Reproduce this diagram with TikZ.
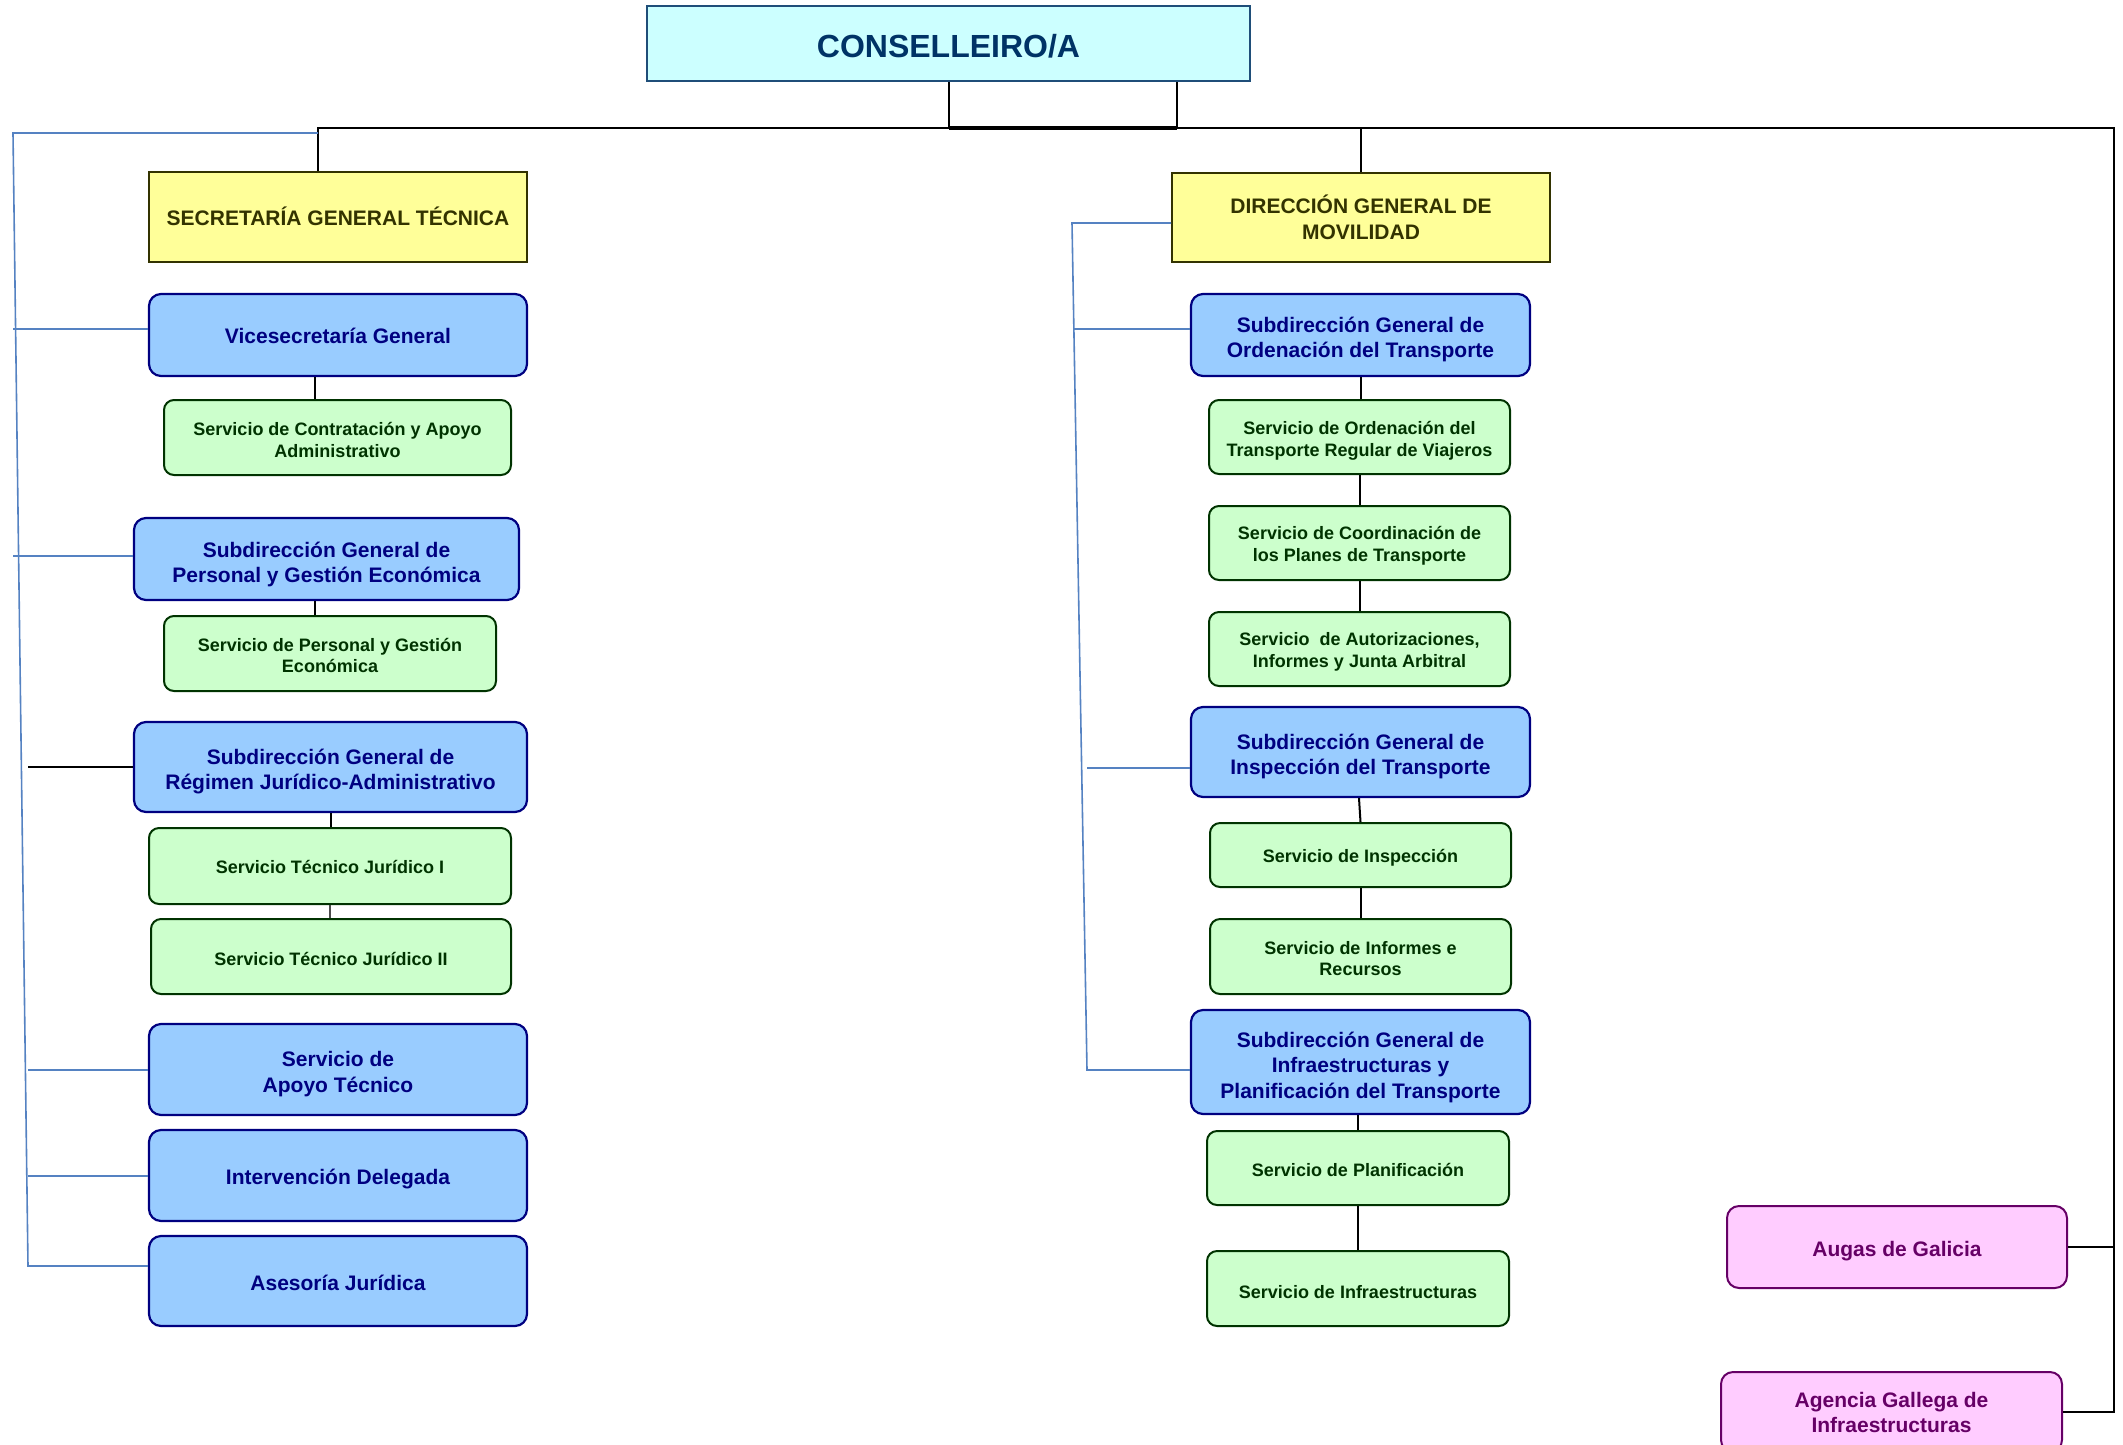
\documentclass[tikz,border=0pt]{standalone}
\usepackage{fontspec}
\setmainfont{Liberation Sans}
\definecolor{consfill}{HTML}{CCFFFF}
\definecolor{consdraw}{HTML}{1F4E79}
\definecolor{constext}{HTML}{003366}
\definecolor{yelfill}{HTML}{FFFF99}
\definecolor{yeldraw}{HTML}{333300}
\definecolor{bluefill}{HTML}{99CCFF}
\definecolor{bluedraw}{HTML}{000080}
\definecolor{greenfill}{HTML}{CCFFCC}
\definecolor{greendraw}{HTML}{003300}
\definecolor{pinkfill}{HTML}{FFCCFF}
\definecolor{pinkdraw}{HTML}{660066}
\definecolor{linkblue}{HTML}{5582C2}
\newcommand{\boxtxt}[2][3.5pt]{\raisebox{-#1}[\height][\depth]{\begin{tabular}{@{}c@{}}#2\end{tabular}}}
\tikzset{
  basebox/.style={draw, align=center, inner sep=0pt},
  consbox/.style={basebox, rectangle, fill=consfill, draw=consdraw, line width=2pt, text=constext, font=\bfseries\fontsize{32}{38}\selectfont},
  yelbox/.style={basebox, rectangle, fill=yelfill, draw=yeldraw, line width=2pt, text=yeldraw, font=\bfseries\fontsize{21}{26}\selectfont},
  bluebox/.style={basebox, rounded corners=12pt, fill=bluefill, draw=bluedraw, line width=2.2pt, text=bluedraw, font=\bfseries\fontsize{21}{25.5}\selectfont},
  greenbox/.style={basebox, rounded corners=10pt, fill=greenfill, draw=greendraw, line width=2pt, text=greendraw, font=\bfseries\fontsize{18}{21.5}\selectfont},
  pinkbox/.style={basebox, rounded corners=12pt, fill=pinkfill, draw=pinkdraw, line width=2pt, text=pinkdraw, font=\bfseries\fontsize{21}{25.5}\selectfont},
  conn/.style={draw=black, line width=2pt},
  thinconn/.style={draw=black!70, line width=1.5pt},
  blink/.style={draw=linkblue, line width=1.6pt},
  sz/.style n args={2}{minimum width=#1pt, minimum height=#2pt}
}
\begin{document}
\begin{tikzpicture}[x=1pt, y=-1pt]
\useasboundingbox (0,0) rectangle (2123,1444);
% top
\node[consbox, sz={603}{75}] (cons) at (948.5,43.5) {\boxtxt[6.5pt]{CONSELLEIRO/A}};
\node[yelbox, sz={378}{90}] (sgt) at (338,217) {\boxtxt[3pt]{SECRETARÍA GENERAL TÉCNICA}};
\node[yelbox, sz={378}{89}] (dgm) at (1361,217.5) {DIRECCIÓN GENERAL DE\\MOVILIDAD};
% left column
\node[bluebox, sz={378}{82}] (vice) at (338,335) {\boxtxt[3.5pt]{Vicesecretaría General}};
\node[greenbox, sz={347}{75}] (scontr) at (337.5,437.5) {\boxtxt[4.5pt]{Servicio de Contratación y Apoyo\\Administrativo}};
\node[bluebox, sz={385}{82}] (sdpers) at (326.5,559) {\boxtxt[6pt]{Subdirección General de\\Personal y Gestión Económica}};
\node[greenbox, sz={332}{75}] (spers) at (330,653.5) {\boxtxt[4pt]{Servicio de Personal y Gestión\\Económica}};
\node[bluebox, sz={393}{90}] (sdreg) at (330.5,767) {\boxtxt[5pt]{Subdirección General de\\Régimen Jurídico-Administrativo}};
\node[greenbox, sz={362}{76}] (stj1) at (330,866) {\boxtxt[3.5pt]{Servicio Técnico Jurídico I}};
\node[greenbox, sz={360}{75}] (stj2) at (331,956.5) {\boxtxt[4.5pt]{Servicio Técnico Jurídico II}};
\node[bluebox, sz={378}{91}] (sapoyo) at (338,1069.5) {\boxtxt[5pt]{Servicio de\\Apoyo Técnico}};
\node[bluebox, sz={378}{91}] (interv) at (338,1175.5) {\boxtxt[4pt]{Intervención Delegada}};
\node[bluebox, sz={378}{90}] (aseso) at (338,1281) {\boxtxt[4.5pt]{Asesoría Jurídica}};
% right column
\node[bluebox, sz={339}{82}] (sdord) at (1360.5,335) {\boxtxt[5pt]{Subdirección General de\\Ordenación del Transporte}};
\node[greenbox, sz={301}{74}] (sord) at (1359.5,437) {\boxtxt[4pt]{Servicio de Ordenación del\\Transporte Regular de Viajeros}};
\node[greenbox, sz={301}{74}] (scoord) at (1359.5,543) {\boxtxt[3pt]{Servicio de Coordinación de\\los Planes de Transporte}};
\node[greenbox, sz={301}{74}] (saut) at (1359.5,649) {\boxtxt[3pt]{Servicio\ \ de Autorizaciones,\\Informes y Junta Arbitral}};
\node[bluebox, sz={339}{90}] (sdins) at (1360.5,752) {\boxtxt[5pt]{Subdirección General de\\Inspección del Transporte}};
\node[greenbox, sz={301}{64}] (sins) at (1360.5,855) {\boxtxt[3.5pt]{Servicio de Inspección}};
\node[greenbox, sz={301}{75}] (sinf) at (1360.5,956.5) {\boxtxt[4pt]{Servicio de Informes e\\Recursos}};
\node[bluebox, sz={339}{104}] (sdinfra) at (1360.5,1062) {\boxtxt[5.5pt]{Subdirección General de\\Infraestructuras y\\Planificación del Transporte}};
\node[greenbox, sz={302}{74}] (splan) at (1358,1168) {\boxtxt[4.5pt]{Servicio de Planificación}};
\node[greenbox, sz={302}{75}] (sinfra) at (1358,1288.5) {\boxtxt[5.5pt]{Servicio de Infraestructuras}};
% far right
\node[pinkbox, sz={340}{82}] (augas) at (1897,1247) {\boxtxt[4pt]{Augas de Galicia}};
\node[pinkbox, sz={341}{80}] (agencia) at (1891.5,1412) {\boxtxt[2.7pt]{Agencia Gallega de\\Infraestructuras}};
% bus coordinates
\coordinate (busL) at (318,128);
\coordinate (busR) at (2114,128);
% black connectors
\draw[conn] (cons.south) -- (cons.south |- busL);
\draw[conn] ([xshift=228.5pt]cons.south) -- ([xshift=228.5pt]cons.south |- busL);
\draw[line width=4pt] (cons.south |- busL) -- ++(228.5,0);
\draw[conn] ([xshift=-20pt]sgt.north) -- (busL) -- (busR) -- (busR |- agencia.east) -- (agencia.east);
\draw[conn] (dgm.north) -- (dgm.north |- busL);
\draw[conn] (augas.east) -- (augas.east -| busR);
\draw[conn] ([xshift=-23pt]vice.south) -- ([xshift=-23pt]vice.south |- scontr.north);
\draw[conn] ([xshift=-11.5pt]sdpers.south) -- ([xshift=-11.5pt]sdpers.south |- spers.north);
\draw[conn] (sdreg.south) -- (sdreg.south |- stj1.north);
\draw[thinconn] (stj1.south) -- (stj1.south |- stj2.north);
\draw[conn] (sdord.south) -- (sdord.south |- sord.north);
\draw[conn] (sord.south) -- (scoord.north);
\draw[conn] (scoord.south) -- (saut.north);
\draw[conn] ([xshift=-1.5pt]sdins.south) -- (sins.north);
\draw[conn] (sins.south) -- (sinf.north);
\draw[conn] (splan.north |- sdinfra.south) -- (splan.north);
\draw[conn] (splan.south) -- (sinfra.north);
% left blue links
\coordinate (bl0) at (318,133);
\coordinate (bl1) at (13,133);
\coordinate (bl2) at (28,1266);
\draw[blink] (bl0) -- (bl1) -- (bl2) -- (bl2 -| aseso.west);
\coordinate (lb1) at (13,329);
\coordinate (lb2) at (13,556);
\coordinate (lb3) at (28,767);
\coordinate (lb4) at (28,1070);
\coordinate (lb5) at (28,1176);
\draw[blink] (lb1) -- (lb1 -| vice.west);
\draw[blink] (lb2) -- (lb2 -| sdpers.west);
\draw[draw=black, line width=1.5pt] (lb3) -- (sdreg.west);
\draw[blink] (lb4) -- (lb4 -| sapoyo.west);
\draw[blink] (lb5) -- (lb5 -| interv.west);
% right blue links
\coordinate (rb1) at (1072,223);
\coordinate (rb2) at (1087,1070);
\draw[blink] (dgm.west |- rb1) -- (rb1) -- (rb2) -- (rb2 -| sdinfra.west);
\coordinate (rl1) at (1074,329);
\coordinate (rl2) at (1087,768);
\draw[blink] (rl1) -- (rl1 -| sdord.west);
\draw[blink] (rl2) -- (rl2 -| sdins.west);
\end{tikzpicture}
\end{document}
